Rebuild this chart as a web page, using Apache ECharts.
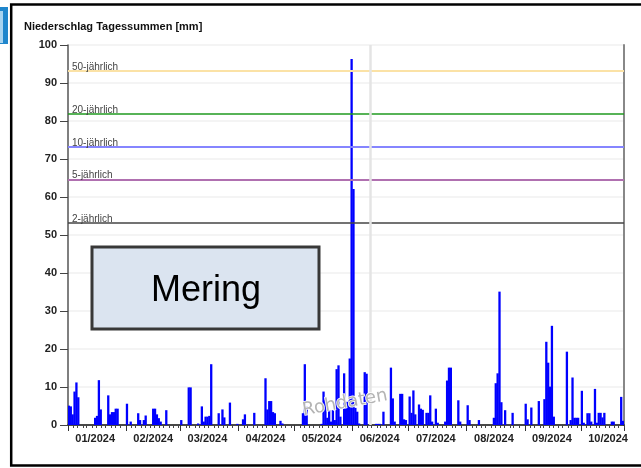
<!DOCTYPE html>
<html><head><meta charset="utf-8">
<script src="https://cdn.jsdelivr.net/npm/echarts@6/dist/echarts.min.js"></script>
<style>html,body{margin:0;padding:0;background:#fff}#c{width:641px;height:468px}</style>
</head><body><div id="c"></div>
<script>
const startDate = '2024-01-01';
const endDate = '2024-10-23';
const rainDays = ['01-01','01-02','01-03','01-04','01-05','01-06','01-15','01-16','01-17','01-18','01-22','01-23','01-24','01-25','01-26','01-27',
'02-01','02-03','02-07','02-08','02-10','02-11','02-15','02-16','02-17','02-18','02-19','02-22',
'03-01','03-05','03-06','03-10','03-12','03-13','03-14','03-15','03-16','03-17','03-21','03-23','03-24','03-27','03-31',
'04-03','04-04','04-09','04-15','04-16','04-17','04-18','04-19','04-20','04-23','04-24',
'05-05','05-06','05-07','05-15','05-16','05-17','05-18','05-19','05-20','05-21','05-22','05-23','05-24','05-25','05-27','05-28','05-29','05-30','05-31',
'06-01','06-02','06-03','06-04','06-07','06-08','06-13','06-14','06-15','06-17','06-21','06-22','06-23','06-26','06-27','06-28','06-29',
'07-01','07-02','07-03','07-04','07-06','07-07','07-08','07-10','07-11','07-12','07-13','07-15','07-16','07-20','07-21','07-22','07-23','07-27','07-28',
'08-01','08-02','08-07','08-15','08-16','08-17','08-18','08-19','08-21','08-25',
'09-01','09-02','09-04','09-08','09-11','09-12','09-13','09-14','09-15','09-16','09-23','09-25','09-26','09-27','09-28','09-29',
'10-01','10-02','10-04','10-05','10-06','10-08','10-09','10-10','10-11','10-12','10-13','10-17','10-18','10-22','10-23'];
const rainMm = [5.1,4.9,2.8,8.8,11.2,7.3,1.9,2.4,11.8,4.1,7.8,2.8,3.4,3.4,4.3,4.3,
5.6,0.9,3.1,1.3,1.3,2.5,4.3,4.3,2.8,1.8,0.9,3.9,
1.3,9.9,9.9,0.4,4.9,0.9,2.2,2.2,2.4,16.0,3.1,4.1,2.0,5.9,0.3,
1.5,2.8,3.2,12.3,4.1,6.3,6.3,3.4,3.1,1.1,0.4,
3.1,16.0,4.8,0.3,8.8,6.6,1.9,3.9,0.9,3.9,1.3,14.7,15.7,2.2,13.6,6.1,6.1,17.5,96.3,
62.1,4.5,3.5,0.4,13.9,13.5,0.3,0.3,0.3,3.5,15.1,7.0,0.9,8.2,8.2,1.5,1.3,
7.5,3.2,9.1,2.8,5.4,4.3,4.0,3.2,3.2,7.8,0.9,4.3,0.6,0.9,11.7,15.1,15.1,6.5,0.9,
5.2,1.3,1.3,1.9,11.0,13.6,35.1,6.0,3.9,3.2,
5.6,1.5,4.6,6.3,6.8,21.9,16.4,10.1,26.1,2.2,19.3,1.3,12.5,1.9,1.9,1.9,
9.0,0.6,3.1,3.1,0.9,9.5,0.6,3.2,3.2,2.0,3.2,0.9,0.9,7.4,1.1];
const returnNames = ['50-jährlich','20-jährlich','10-jährlich','5-jährlich','2-jährlich'];
const returnValues = [93.2, 81.8, 73.2, 64.6, 53.2];
const returnColors = ['#fbe2a6','#1f9a1f','#8585ff','#b070b0','#444444'];
const returnWidths = [2, 1.5, 2, 2, 1.5];
const markerDate = '2024-06-10';
const minorTickDays = [4,6,9,11,14,16,19,21,24,26,29];
const labelDay = 15;

const categories = [];
for (let t = Date.parse(startDate + 'T00:00:00Z'); t <= Date.parse(endDate + 'T00:00:00Z'); t += 86400000) {
  categories.push(new Date(t).toISOString().slice(0, 10));
}
const valueMap = {};
rainDays.forEach((d, i) => { valueMap['2024-' + d] = rainMm[i]; });
const barData = categories.map(c => (c in valueMap) ? valueMap[c] : '-');
const dom = v => parseInt(v.slice(8), 10);

const chart = echarts.init(document.getElementById('c'));
chart.setOption({
  animation: false,
  grid: { left: 68, right: 17, top: 45, bottom: 43, containLabel: false },
  xAxis: [{
    type: 'category', data: categories, position: 'bottom',
    boundaryGap: true,
    axisLine: { show: true, lineStyle: { color: '#111', width: 1.5 } },
    axisTick: { show: true, length: 6, interval: (i, v) => dom(v) === 1, lineStyle: { color: '#333', width: 1 } },
    axisLabel: { show: true, interval: (i, v) => dom(v) === labelDay, formatter: v => v.slice(5, 7) + '/' + v.slice(0, 4),
      fontFamily: 'Liberation Sans, Arial', fontWeight: 'bold', fontSize: 11, color: '#222', margin: 8 },
    splitLine: { show: false }
  }, {
    type: 'category', data: categories, position: 'bottom',
    boundaryGap: true,
    axisLine: { show: false },
    axisTick: { show: true, length: 3, interval: (i, v) => minorTickDays.indexOf(dom(v)) >= 0, lineStyle: { color: '#444', width: 1 } },
    axisLabel: { show: false },
    splitLine: { show: false }
  }],
  yAxis: [{
    type: 'value', min: 0, max: 100, interval: 10,
    axisLine: { show: true, lineStyle: { color: '#555', width: 1.5 } },
    axisTick: { show: true, length: 8, lineStyle: { color: '#444' } },
    axisLabel: { fontFamily: 'Liberation Sans, Arial', fontWeight: 'bold', fontSize: 11, color: '#222', margin: 11 },
    splitLine: { show: true, lineStyle: { color: '#f0f0f0', width: 1.5 } }
  }, {
    type: 'value', min: 0, max: 100, interval: 10, position: 'right',
    axisLine: { show: true, lineStyle: { color: '#888', width: 2 } },
    axisTick: { show: false }, axisLabel: { show: false }, splitLine: { show: false }
  }],
  series: [{
    type: 'bar', xAxisIndex: 0, yAxisIndex: 0,
    data: barData,
    barWidth: 2.3,
    itemStyle: { color: '#0000ff' },
    markLine: {
      silent: true, symbol: 'none', animation: false,
      data: returnNames.map((n, i) => ({
        yAxis: returnValues[i], name: n,
        lineStyle: { color: returnColors[i], width: returnWidths[i], type: 'solid' },
        label: { show: true, position: 'insideStartTop', formatter: n, distance: [4, -1],
          fontFamily: 'Liberation Sans, Arial', fontSize: 10, color: '#444' }
      })).concat([{
        xAxis: markerDate,
        lineStyle: { color: '#e4e4e4', width: 2.5, type: 'solid' },
        label: { show: false }
      }])
    },
    z: 3
  }],
  graphic: [
    { type: 'rect', shape: { x: 11.2, y: 4.5, width: 700, height: 461 }, style: { fill: 'none', stroke: '#000', lineWidth: 2.5 }, z: 1 },
    { type: 'rect', shape: { x: 0, y: 7, width: 8, height: 37 }, style: { fill: '#1f86cc' }, z: 1 },
    { type: 'rect', shape: { x: 0, y: 11, width: 3, height: 32 }, style: { fill: '#a8d4f0' }, z: 2 },
    { type: 'text', x: 24, y: 27, style: { text: 'Niederschlag Tagessummen [mm]', font: 'bold 11px "Liberation Sans", Arial', fill: '#111', textVerticalAlign: 'middle' }, z: 10 },
    { type: 'rect', shape: { x: 92, y: 247, width: 227, height: 82 }, style: { fill: '#dbe4f0', stroke: '#383838', lineWidth: 3 }, z: 100 },
    { type: 'text', x: 206, y: 291, style: { text: 'Mering', font: '36px "Liberation Sans", Arial', fill: '#000', textAlign: 'center', textVerticalAlign: 'middle' }, z: 101 },
    { type: 'text', x: 345, y: 403, rotation: 0.18, style: { text: 'Rohdaten', font: '18px "DejaVu Sans", Arial', fill: '#b4b4b4', stroke: '#fff', lineWidth: 1.5, textAlign: 'center', textVerticalAlign: 'middle' }, z: 100 }
  ]
});
</script>
</body></html>
